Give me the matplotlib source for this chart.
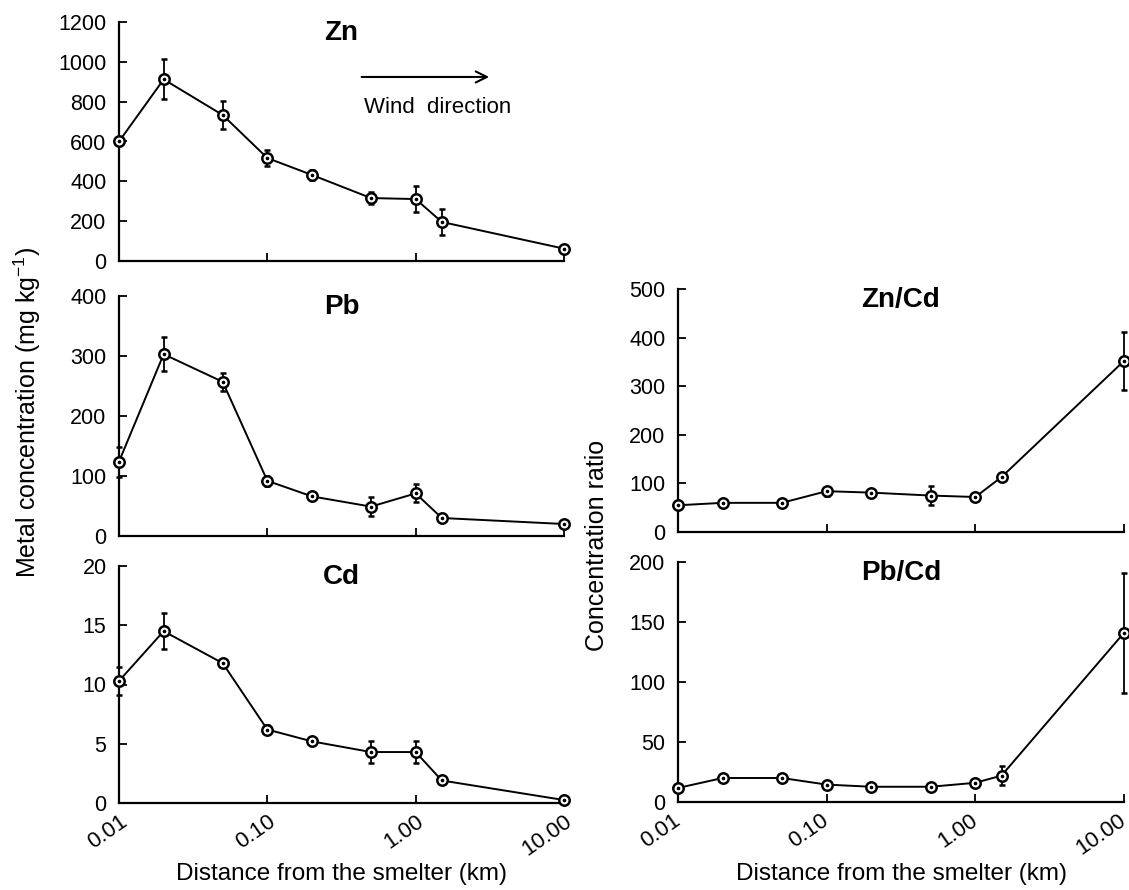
import matplotlib
matplotlib.use("Agg")
import matplotlib.pyplot as plt
import matplotlib.transforms as mtransforms

plt.rcParams['font.family'] = ['Liberation Sans', 'DejaVu Sans']
plt.rcParams['mathtext.default'] = 'regular'

# distance from the smelter (km)
distance = [0.01, 0.02, 0.05, 0.1, 0.2, 0.5, 1.0, 1.5, 10.0]

zn = [600, 912, 733, 517, 432, 316, 311, 196, 62]
zn_err = [8, 100, 68, 38, 25, 28, 65, 65, 8]

pb = [124, 303, 257, 92, 66, 49, 71, 30, 20]
pb_err = [25, 28, 15, 8, 4, 16, 15, 3, 3]

cd = [10.3, 14.5, 11.8, 6.2, 5.2, 4.3, 4.3, 1.9, 0.25]
cd_err = [1.2, 1.5, 0.2, 0.35, 0.2, 0.9, 0.9, 0.3, 0.1]

zn_cd = [55, 60, 60, 84, 81, 75, 72, 113, 352]
zn_cd_err = [4, 3, 3, 9, 5, 19, 5, 9, 60]

pb_cd = [11.7, 20, 20, 14.5, 12.7, 12.7, 16, 22, 141]
pb_cd_err = [2, 2, 2, 2, 1, 1.5, 2, 8, 50]

xticks = [0.01, 0.1, 1, 10]
xtick_labels = ["0.01", "0.10", "1.00", "10.00"]

W, H = 1129, 890
fig = plt.figure(figsize=(W / 100, H / 100), dpi=100)


def px_axes(left, top, right, bottom):
    return fig.add_axes([left / W, 1 - bottom / H, (right - left) / W, (bottom - top) / H])


def panel(ax, y, err, ymax, ystep, title, show_xlabels, label_shift=0):
    ax.errorbar(distance, y, yerr=err, color='black', lw=1.4, elinewidth=1.3,
                capsize=2.5, capthick=1.3, marker='o', ms=7.5, mfc='white',
                mec='black', mew=1.8, clip_on=False, zorder=3)
    ax.plot(distance, y, ls='none', marker='o', ms=1.6, color='black',
            clip_on=False, zorder=4)
    ax.set_xscale('log')
    ax.set_xlim(0.01, 10)
    ax.set_ylim(0, ymax)
    ax.set_yticks(range(0, ymax + 1, ystep))
    ax.set_xticks(xticks)
    ax.minorticks_off()
    ax.spines['top'].set_visible(False)
    ax.spines['right'].set_visible(False)
    for s in ('left', 'bottom'):
        ax.spines[s].set_linewidth(1.6)
    ax.tick_params(direction='in', length=6, width=1.3, labelsize=15.5, pad=6)
    ax.tick_params(axis='y', pad=9)
    if show_xlabels:
        ax.set_xticklabels(xtick_labels, rotation=35, ha='right', va='top',
                           rotation_mode='anchor', fontsize=16)
        if label_shift:
            offset = mtransforms.ScaledTranslation(label_shift / 100, 0, fig.dpi_scale_trans)
            for lab in ax.get_xticklabels():
                lab.set_transform(lab.get_transform() + offset)
        ax.set_xlabel("Distance from the smelter (km)", fontsize=17.5, va='center')
        bottom_px = ax.get_position().y0 * H
        ax.xaxis.set_label_coords(0.5, -(bottom_px - (H - 874)) / (ax.get_position().height * H))
    else:
        ax.set_xticklabels([])
    ax.text(0.5, 0.955, title, transform=ax.transAxes, ha='center', va='center',
            fontsize=20, fontweight='bold')


ax_zn = px_axes(119, 22, 564, 261)
ax_pb = px_axes(119, 296, 564, 536)
ax_cd = px_axes(119, 566, 564, 803)
ax_zncd = px_axes(678, 289, 1124, 532)
ax_pbcd = px_axes(678, 562, 1124, 802)

panel(ax_zn, zn, zn_err, 1200, 200, "Zn", False)
panel(ax_pb, pb, pb_err, 400, 100, "Pb", False)
panel(ax_cd, cd, cd_err, 20, 5, "Cd", True)
panel(ax_zncd, zn_cd, zn_cd_err, 500, 100, "Zn/Cd", False)
panel(ax_pbcd, pb_cd, pb_cd_err, 200, 50, "Pb/Cd", True, label_shift=-6)

# wind direction arrow
ax_zn.annotate("", xy=(0.838, 0.77), xytext=(0.539, 0.77), xycoords='axes fraction',
               arrowprops=dict(arrowstyle='->', color='black', lw=1.5, mutation_scale=20))
ax_zn.text(0.717, 0.644, "Wind  direction", transform=ax_zn.transAxes,
           ha='center', va='center', fontsize=16)

fig.text(27 / W, 1 - 412 / H, "Metal concentration (mg kg$^{-1}$)", rotation=90,
         ha='center', va='center', fontsize=18)
fig.text(597 / W, 1 - 545 / H, "Concentration ratio", rotation=90,
         ha='center', va='center', fontsize=18)

fig.savefig("out.png", dpi=100)
